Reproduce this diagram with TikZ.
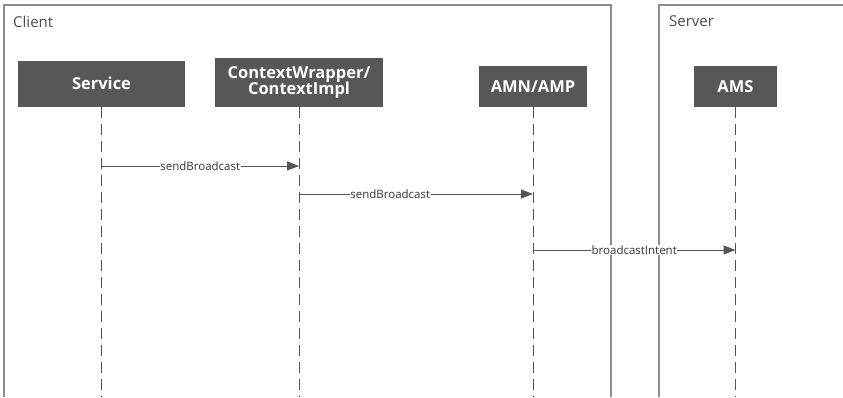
\documentclass[tikz,border=0pt]{standalone}
\usepackage{fontspec}
\setmainfont{Open Sans}
\usetikzlibrary{arrows.meta, positioning, calc}

\definecolor{boxgray}{HTML}{575757}
\definecolor{framegray}{HTML}{8C8C8C}
\definecolor{linegray}{HTML}{555555}

\begin{document}
\begin{tikzpicture}[
    x=1pt, y=-1pt,
    lifebox/.style={draw=none, rectangle, fill=boxgray, text=white, inner sep=0pt, font=\fontsize{16.5}{18}\selectfont\bfseries, align=center, anchor=south},
    frame/.style={draw=framegray, line width=1.1pt},
    framelabel/.style={anchor=west, text=black!70, font=\fontsize{15}{17}\selectfont, inner sep=0pt},
    lifeline/.style={draw=linegray, line width=1pt, dash pattern=on 11pt off 6pt},
    msg/.style={-{Triangle[length=12pt, width=9pt]}, draw=linegray, fill=linegray, line width=1pt},
    msglabel/.style={fill=white, text=black!80, inner sep=0.5pt, font=\fontsize{11.5}{13}\selectfont}
]
    \useasboundingbox (0,0) rectangle (843,397);

    % frames
    \draw[frame] (4,397) -- (4,5) -- (611,5) -- (611,397);
    \draw[frame] (659,397) -- (659,5) -- (843,5);
    \node[framelabel] (ClientLbl) at (13,22) {Client};
    \node[framelabel] (ServerLbl) at (669,21) {Server};

    % participants
    \node[lifebox, minimum width=167pt, minimum height=46pt] (Service) at (101.5,107) {Service};
    \node[lifebox, minimum width=168pt, minimum height=49pt] (Ctx)     at (299,107) {ContextWrapper/\\[-2pt]ContextImpl};
    \node[lifebox, minimum width=108pt, minimum height=41pt] (AMN)     at (533,107) {AMN/AMP};
    \node[lifebox, minimum width=83pt,  minimum height=41pt] (AMS)     at (735.5,107) {AMS};

    % lifelines
    \foreach \p in {Service, Ctx, AMN, AMS} {
        \coordinate (\p End) at (\p.south |- 0,397);
        \draw[lifeline] (\p.south) -- (\p End);
    }

    % messages
    \draw[msg] (Service.south |- 0,166) -- (Ctx.south |- 0,166) node[msglabel, pos=0.5]{sendBroadcast};
    \draw[msg] (Ctx.south |- 0,194) -- (AMN.south |- 0,194) node[msglabel, pos=0.39]{sendBroadcast};
    \draw[msg] (AMN.south |- 0,250) -- (AMS.south |- 0,250) node[msglabel, pos=0.5]{broadcastIntent};

\end{tikzpicture}
\end{document}
